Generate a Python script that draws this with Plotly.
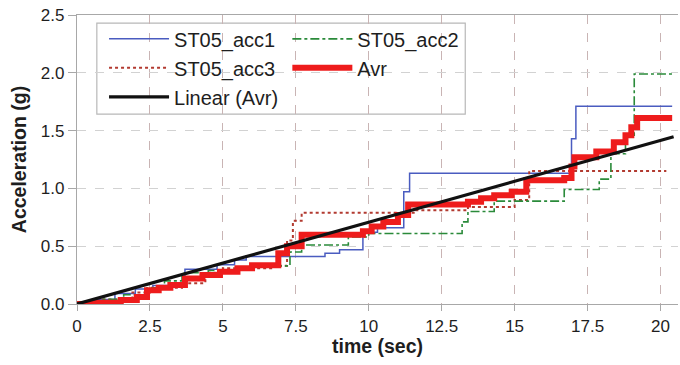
import plotly.graph_objects as go

# --- data (time in sec, acceleration in g) ---
acc1_t = [0, 0.6, 1.3, 2.0, 2.6, 3.4, 3.7, 4.8, 5.4, 5.8, 8.5, 9.0, 9.8, 10.3, 11.2, 11.4, 16.95, 17.1, 20.4]
acc1_g = [0, 0.04, 0.09, 0.13, 0.16, 0.18, 0.30, 0.34, 0.38, 0.41, 0.44, 0.47, 0.62, 0.66, 0.97, 1.13, 1.43, 1.71, 1.71]

acc2_t = [0, 0.8, 1.6, 2.4, 3.0, 3.6, 4.5, 5.5, 6.9, 7.3, 7.7, 9.3, 10.0, 13.2, 13.4, 14.3, 16.7, 17.9, 18.3, 18.8, 19.1, 20.4]
acc2_g = [0, 0.04, 0.08, 0.14, 0.20, 0.27, 0.29, 0.32, 0.33, 0.45, 0.51, 0.58, 0.61, 0.71, 0.80, 0.89, 0.99, 1.08, 1.30, 1.46, 1.99, 1.99]

acc3_t = [0, 0.9, 1.9, 2.5, 3.6, 4.4, 5.0, 6.7, 7.2, 7.4, 7.7, 11.6, 13.4, 15.0, 15.5, 20.2]
acc3_g = [0, 0.04, 0.10, 0.14, 0.18, 0.27, 0.31, 0.33, 0.55, 0.72, 0.79, 0.81, 0.84, 0.90, 1.15, 1.15]

avr_t = [0, 0.7, 1.5, 2.05, 2.4, 2.8, 3.2, 3.7, 4.3, 4.9, 5.5, 6.0, 6.9, 7.2, 7.7, 9.8, 10.1, 10.5, 11.0,
         11.35, 13.4, 13.85, 14.3, 14.9, 15.4, 16.7, 16.95, 17.05, 17.8, 18.4, 18.8, 19.0, 19.2, 20.4]
avr_g = [0, 0.01, 0.035, 0.06, 0.12, 0.14, 0.165, 0.22, 0.25, 0.28, 0.31, 0.335, 0.44, 0.50, 0.60, 0.63, 0.67, 0.71, 0.77,
         0.86, 0.885, 0.915, 0.94, 0.97, 1.07, 1.09, 1.19, 1.27, 1.32, 1.40, 1.46, 1.53, 1.61, 1.61]

trend_t = [0, 20.45]
trend_g = [0, 1.447]

x_ticks = [0, 2.5, 5, 7.5, 10, 12.5, 15, 17.5, 20]

FONT = "Liberation Sans, Arial, sans-serif"
TXT = "#1e1e1e"

fig = go.Figure()

fig.add_trace(go.Scatter(x=acc1_t, y=acc1_g, name="ST05_acc1", mode="lines", line_shape="hv",
                         line=dict(color="#4a5cc0", width=1.5), legend="legend", legendgroup="a1"))
fig.add_trace(go.Scatter(x=acc3_t, y=acc3_g, name="ST05_acc3", mode="lines", line_shape="hv",
                         line=dict(color="#b23a30", width=2, dash="dot"), legend="legend", legendgroup="a3"))
fig.add_trace(go.Scatter(x=acc2_t, y=acc2_g, name="ST05_acc2", mode="lines", line_shape="hv",
                         line=dict(color="#2a8a3a", width=1.6, dash="dashdot"), legend="legend2", legendgroup="a2"))
fig.add_trace(go.Scatter(x=avr_t, y=avr_g, name="Avr", mode="lines", line_shape="hv",
                         line=dict(color="#ee1c1c", width=6), legend="legend2", legendgroup="av"))
fig.add_trace(go.Scatter(x=trend_t, y=trend_g, name="Linear (Avr)", mode="lines",
                         line=dict(color="#111111", width=3.2), legend="legend", legendgroup="lin"))

legend_common = dict(
    font=dict(family=FONT, size=20, color=TXT),
    bgcolor="rgba(0,0,0,0)", borderwidth=0,
    orientation="v", xanchor="left", yanchor="top",
    itemwidth=60, tracegroupgap=3, traceorder="normal",
)

fig.update_layout(
    width=680, height=365,
    margin=dict(l=77, r=2, t=15, b=61),
    paper_bgcolor="white", plot_bgcolor="white",
    font=dict(family=FONT, size=17, color=TXT),
    showlegend=True,
    legend=dict(x=0.045, y=0.985, **legend_common),
    legend2=dict(x=0.35, y=0.985, **legend_common),
    shapes=[dict(type="rect", xref="paper", yref="paper", x0=0.033, x1=0.646, y0=0.657, y1=0.972,
                 line=dict(color="#b8b8b8", width=1.2), fillcolor="white", layer="below")],
    xaxis=dict(
        range=[0, 20.6], tickvals=x_ticks, ticktext=[f"{v:g}" for v in x_ticks],
        showgrid=True, gridcolor="#c9b4b4", griddash="dash", gridwidth=1,
        showline=True, linecolor="#a8a8a8", linewidth=1.2, mirror=True,
        ticks="outside", ticklen=6, tickcolor="#a8a8a8",
        tickfont=dict(family=FONT, size=17, color=TXT),
        title=dict(text="<b>time (sec)</b>", font=dict(family=FONT, size=19.5, color=TXT), standoff=2),
        zeroline=False,
    ),
    yaxis=dict(
        range=[0, 2.5], dtick=0.5, tickformat=".1f",
        showgrid=True, gridcolor="#d2d2d2", griddash="dash", gridwidth=1,
        showline=True, linecolor="#a8a8a8", linewidth=1.2,
        ticks="outside", ticklen=8, tickcolor="#a8a8a8",
        tickfont=dict(family=FONT, size=17, color=TXT),
        title=dict(text="<b>Acceleration (g)</b>", font=dict(family=FONT, size=19.5, color=TXT), standoff=9),
        zeroline=False,
    ),
)

fig.write_html("out.html")
